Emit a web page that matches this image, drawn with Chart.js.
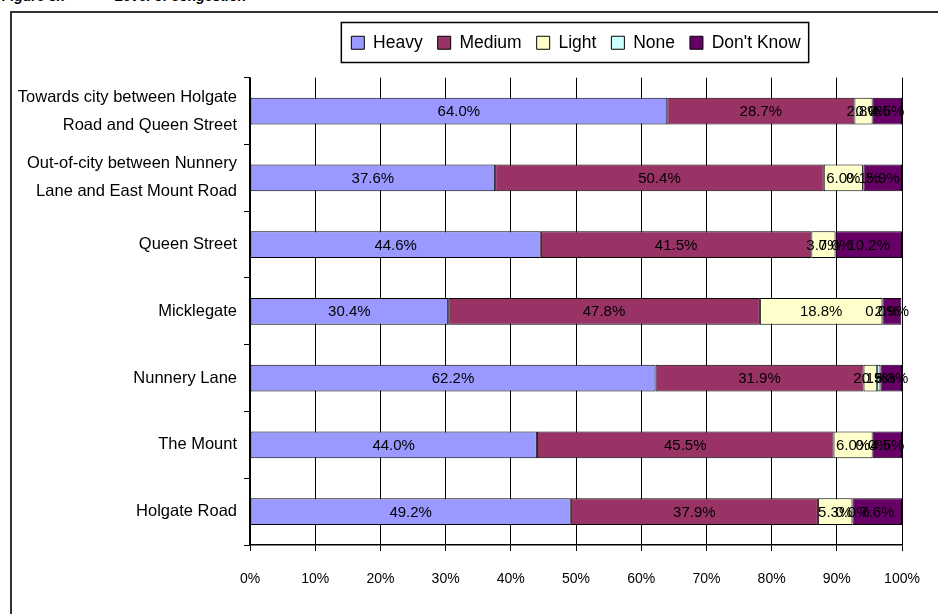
<!DOCTYPE html>
<html>
<head>
<meta charset="utf-8">
<script src="https://cdn.jsdelivr.net/npm/chart.js@4.4.1/dist/chart.umd.min.js"></script>
<style>
  html, body { margin: 0; padding: 0; background: #fff; overflow: hidden; }
  #titulo { position: absolute; left: 2px; top: -12px; font: italic bold 14px "Liberation Sans", Arial, sans-serif; color: #000; white-space: pre; }
  #marco { position: absolute; left: 10px; top: 11px; width: 960px; height: 640px; border: 2px solid #333; }
  #wrap { position: absolute; left: 0; top: 0; width: 938px; height: 614px; }
</style>
</head>
<body>
<div id="titulo">Figure 8.7            Level of congestion</div>
<div id="marco"></div>
<div id="wrap"><canvas id="grafico"></canvas></div>
<script>
var categorias = [
    ['Towards city between Holgate', 'Road and Queen Street'],
    ['Out-of-city between Nunnery', 'Lane and East Mount Road'],
    'Queen Street',
    'Micklegate',
    'Nunnery Lane',
    'The Mount',
    'Holgate Road'
];
var series = ['Heavy', 'Medium', 'Light', 'None', "Don't Know"];
var heavy    = [64.0, 37.6, 44.6, 30.4, 62.2, 44.0, 49.2];
var medium   = [28.7, 50.4, 41.5, 47.8, 31.9, 45.5, 37.9];
var light    = [2.8, 6.0, 3.7, 18.8, 2.1, 6.0, 5.3];
var none     = [0.0, 0.1, 0.0, 0.0, 0.5, 0.0, 0.0];
var dontKnow = [4.5, 5.9, 10.2, 2.9, 3.3, 4.5, 7.6];
var xTicks = [0, 10, 20, 30, 40, 50, 60, 70, 80, 90, 100];

var colores = ['#9999FF', '#993366', '#FFFFCC', '#CCFFFF', '#660066'];
var fuente = '"Liberation Sans", Arial, sans-serif';

// etiquetas de porcentaje centradas en cada tramo
var etiquetas = {
    id: 'etiquetas',
    afterDatasetsDraw: function(chart) {
        var ctx = chart.ctx;
        ctx.save();
        ctx.font = '15px ' + fuente;
        ctx.fillStyle = '#000';
        ctx.textAlign = 'center';
        ctx.textBaseline = 'middle';
        chart.data.datasets.forEach(function(ds, i) {
            var meta = chart.getDatasetMeta(i);
            meta.data.forEach(function(bar, j) {
                var x = (bar.x + bar.base) / 2;
                ctx.fillText(ds.data[j].toFixed(1) + '%', x, bar.y + 1);
            });
        });
        ctx.restore();
    }
};

// recuadro alrededor de la leyenda
var marcoLeyenda = {
    id: 'marcoLeyenda',
    afterDraw: function(chart) {
        var cajas = chart.legend.legendHitBoxes;
        if (!cajas || !cajas.length) return;
        var izq = cajas[0].left;
        var der = cajas[cajas.length - 1].left + cajas[cajas.length - 1].width;
        var ctx = chart.ctx;
        ctx.save();
        ctx.strokeStyle = '#000';
        ctx.lineWidth = 1.5;
        ctx.strokeRect(izq - 10, 22.5, der - izq + 18, 40);
        ctx.restore();
    }
};

document.addEventListener("DOMContentLoaded", function() {
    var valores = [heavy, medium, light, none, dontKnow];
    var datasets = valores.map(function(v, i) {
        return {
            label: series[i],
            data: v,
            backgroundColor: colores[i],
            borderColor: '#000',
            borderWidth: 1,
            borderSkipped: false,
            categoryPercentage: 1,
            barPercentage: 0.4
        };
    });

    var ctx = document.getElementById('grafico').getContext('2d');
    new Chart(ctx, {
        type: 'bar',
        data: { labels: categorias, datasets: datasets },
        options: {
            indexAxis: 'y',
            responsive: true,
            maintainAspectRatio: false,
            animation: false,
            layout: { padding: { top: 19, left: 10, right: 36, bottom: 0 } },
            scales: {
                x: {
                    stacked: true,
                    min: 0,
                    max: 100,
                    afterBuildTicks: function(scale) {
                        scale.ticks = xTicks.map(function(t) { return { value: t }; });
                    },
                    afterFit: function(scale) {
                        scale.height = 69;
                        scale.paddingLeft = 0;
                        scale.paddingRight = 0;
                    },
                    grid: { color: '#000', lineWidth: 1, tickLength: 6 },
                    border: { color: '#000', width: 1.5 },
                    ticks: {
                        padding: 20,
                        color: '#000',
                        font: { family: fuente, size: 14 },
                        callback: function(v) { return v + '%'; }
                    }
                },
                y: {
                    stacked: true,
                    afterFit: function(scale) { scale.width = 240; },
                    grid: { drawOnChartArea: false, color: '#000', tickLength: 6 },
                    border: { color: '#000', width: 1.5 },
                    ticks: {
                        padding: 7,
                        color: '#000',
                        font: { family: fuente, size: 16.5, lineHeight: 1.7 }
                    }
                }
            },
            plugins: {
                legend: {
                    position: 'top',
                    fullSize: false,
                    labels: {
                        boxWidth: 13,
                        boxHeight: 13,
                        padding: 15,
                        color: '#000',
                        font: { family: fuente, size: 17.5 }
                    }
                },
                subtitle: {
                    display: true,
                    text: '',
                    weight: 500,
                    font: { size: 1 },
                    padding: { top: 0, bottom: 15 }
                },
                tooltip: { enabled: false }
            }
        },
        plugins: [etiquetas, marcoLeyenda]
    });
});
</script>
</body>
</html>
